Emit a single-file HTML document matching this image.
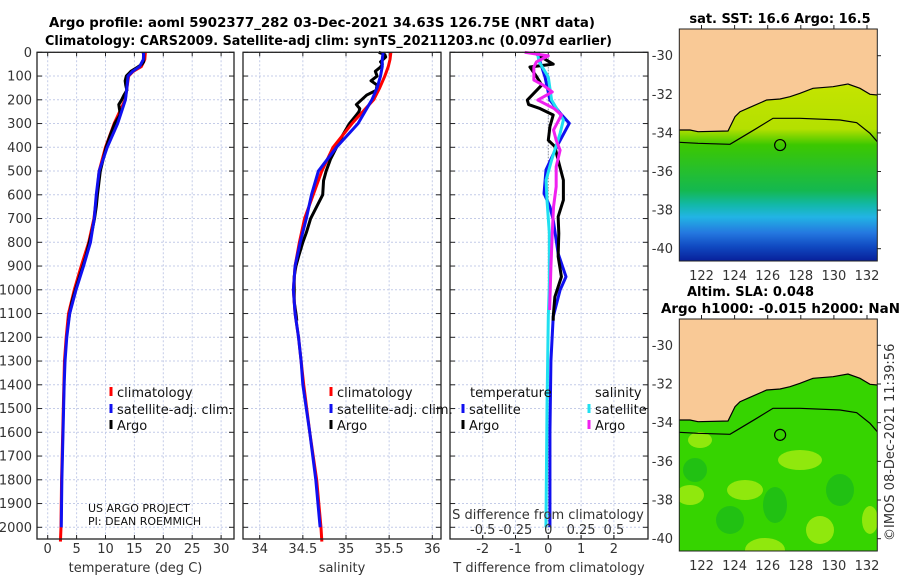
<!DOCTYPE html>
<html><head><meta charset="utf-8"><style>
html,body{margin:0;padding:0;background:#fff;}
svg{display:block;font-family:"DejaVu Sans","Liberation Sans",sans-serif;}
.tl{font-size:13px;fill:#333;}
.ti{font-weight:bold;font-size:13px;fill:#000;}
</style></head><body>
<svg id="fig" width="900" height="580" viewBox="0 0 900 580" xmlns="http://www.w3.org/2000/svg">
<defs>
<linearGradient id="sstg" x1="0" y1="0" x2="0" y2="1">
<stop offset="0" stop-color="#c4e400"/><stop offset="0.25" stop-color="#b4e000"/>
<stop offset="0.34" stop-color="#3cc800"/><stop offset="0.6" stop-color="#14b850"/>
<stop offset="0.68" stop-color="#12b8a8"/><stop offset="0.75" stop-color="#22b4e4"/>
<stop offset="0.84" stop-color="#2478e0"/><stop offset="0.92" stop-color="#1048c0"/>
<stop offset="1" stop-color="#08209a"/></linearGradient>
<clipPath id="m1clip"><rect x="679.3" y="29" width="198" height="232"/></clipPath>
<clipPath id="m2clip"><rect x="679.3" y="319" width="198" height="232"/></clipPath>
</defs>
<text class="ti" x="49" y="27" textLength="546" lengthAdjust="spacingAndGlyphs">Argo profile: aoml 5902377_282 03-Dec-2021 34.63S 126.75E (NRT data)</text>
<text class="ti" x="45" y="45" textLength="567" lengthAdjust="spacingAndGlyphs">Climatology: CARS2009. Satellite-adj clim: synTS_20211203.nc (0.097d earlier)</text>
<g id="panels"></g>
<g id="maps"></g>
<text transform="translate(894,541) rotate(-90)" font-size="13" fill="#333">©IMOS 08-Dec-2021 11:39:56</text>
</svg>
<script>
// ---------- data ----------
const depthTicks = [0,100,200,300,400,500,600,700,800,900,1000,1100,1200,1300,1400,1500,1600,1700,1800,1900,2000];
const tempTicks = [0,5,10,15,20,25,30];
const salTicks = [34,34.5,35,35.5,36];
const salTickLabels = ["34","34.5","35","35.5","36"];
const tdiffTicks = [-2,-1,0,1,2];
const sdiffTicks = [-0.5,-0.25,0,0.25,0.5];
const sdiffTickLabels = ["-0.5","-0.25","0","0.25","0.5"];

const climDepth = [0,30,60,80,100,150,200,300,400,500,600,700,800,900,1000,1100,1200,1300,1400,1600,1800,2000,2060];
const climT = [16.9,16.8,16.2,14.8,14.0,13.7,13.4,11.5,10.0,8.9,8.5,8.0,7.1,5.8,4.6,3.6,3.2,2.9,2.8,2.6,2.4,2.3,2.2];
const climS = [35.52,35.51,35.49,35.47,35.45,35.39,35.32,35.07,34.85,34.72,34.62,34.52,34.46,34.41,34.39,34.41,34.45,34.48,34.51,34.58,34.66,34.71,34.72];
const satDepth = [0,30,60,80,100,150,200,300,400,500,600,700,800,900,1000,1100,1200,1300,1400,1600,1800,2000];
const satT = [16.6,16.55,15.9,14.7,13.9,13.7,13.45,12.1,10.3,8.9,8.4,8.05,7.4,6.2,4.9,3.8,3.3,3.0,2.85,2.65,2.45,2.35];
const satS = [35.43,35.42,35.42,35.41,35.40,35.36,35.30,35.14,34.89,34.68,34.60,34.54,34.47,34.41,34.39,34.41,34.45,34.48,34.50,34.58,34.65,34.70];
const argoDepth = [0,10,20,40,50,62,80,100,120,138,160,180,200,220,237,250,264,300,350,400,450,500,540,600,650,700,760,800,860,900,945,1000,1050,1100,1130];
const argoT = [16.5,16.6,16.6,16.6,16.3,15.6,14.4,13.6,13.4,13.5,13.7,13.2,12.8,12.3,12.4,12.5,12.5,11.6,10.8,10.1,9.6,9.1,8.9,8.6,8.4,8.1,7.6,7.2,6.6,6.1,5.5,4.8,4.2,3.8,3.6];
const argoS = [35.38,35.45,35.46,35.40,35.42,35.40,35.34,35.36,35.29,35.36,35.35,35.24,35.18,35.12,35.16,35.15,35.12,35.04,34.96,34.89,34.82,34.77,34.74,34.73,34.66,34.59,34.54,34.50,34.45,34.42,34.40,34.40,34.40,34.42,34.43];
const tdSatDepth = [0,40,104,201,256,299,397,495,594,650,706,847,945,1001,1113,1300,1600,2000];
const tdSat = [-0.3,-0.25,-0.1,0.05,0.36,0.64,0.26,-0.07,-0.13,0.05,0.15,0.3,0.54,0.36,0.15,0.08,0.05,0.05];
const tdArgoDepth = [0,50,62,104,138,201,220,237,264,313,370,397,454,538,622,692,762,860,945,1030,1113,1130];
const tdArgo = [-0.45,0.15,-0.56,-0.35,-0.2,-0.64,-0.6,-0.25,0.15,0.05,0,0.2,0.3,0.46,0.46,0.3,0.32,0.3,0.4,0.2,0.15,0.15];
const sdSatDepth = [0,40,104,201,285,341,454,538,622,762,973,1113,1500,2000];
const sdSat = [-0.084,-0.07,0,0.025,0.115,0.09,0.025,-0.017,-0.01,0.008,0.008,0,-0.01,-0.018];
const sdArgoDepth = [0,15,40,62,117,138,167,201,237,264,327,370,412,482,566,650,762,903,1085];
const sdArgo = [-0.18,0,-0.09,-0.11,-0.11,-0.04,0.03,-0.08,0.045,0.1,0.04,0.06,0.09,0.06,0.06,0.04,0.03,0.02,0.01];
const lonTicks = [122,124,126,128,130,132];
const latTicks = [-30,-32,-34,-36,-38,-40];
const argoLon = 126.75;
const argoLat = -34.63;

// ---------- scales ----------
const Y0 = 52.3, YB = 539;
function yD(d){ return Y0 + d*0.2375; }
function xT(t){ return 47.7 + t*5.78; }
function xS(s){ return 259.7 + (s-34)*86.3; }
function xTd(v){ return 548.3 + v*32.8; }
function xSd(v){ return 548.3 + v*131.2; }
function mLon(l){ return 701.5 + (l-122)*16.55; }
function m1Lat(l){ return 55.7 + (-30 - l)*19.3; }
function m2Lat(l){ return 345.3 + (-30 - l)*19.34; }

const NS = "http://www.w3.org/2000/svg";
function mk(parent, tag, attrs, txt){
  const el = document.createElementNS(NS, tag);
  for (const k in attrs) el.setAttribute(k, attrs[k]);
  if (txt !== undefined) el.textContent = txt;
  parent.appendChild(el);
  return el;
}
const G = document.getElementById('panels');
const panels = [
  {x0:37, x1:234, ticks:tempTicks, labels:tempTicks.map(String), sx:xT, title:"temperature (deg C)", name:"temperature"},
  {x0:243, x1:441, ticks:salTicks, labels:salTickLabels, sx:xS, title:"salinity", name:"salinity"},
  {x0:450, x1:648, ticks:tdiffTicks, labels:tdiffTicks.map(String), sx:xTd, title:"T difference from climatology", name:"difference"}
];
panels.forEach((p, pi) => {
  const g = mk(G, 'g', {});
  
  
  // grid
  depthTicks.forEach(d => {
    const gl = mk(g, 'line', {x1:p.x0, x2:p.x1, y1:yD(d), y2:yD(d), stroke:'#c4cce8', 'stroke-width':1, 'stroke-dasharray':'2,2'});
    
    
    const t1 = mk(g, 'line', {x1:p.x0, x2:p.x0+5, y1:yD(d), y2:yD(d), stroke:'#222'});
    
    
    const t2 = mk(g, 'line', {x1:p.x1-5, x2:p.x1, y1:yD(d), y2:yD(d), stroke:'#222'});
    
    
    if (pi === 0) {
      const lb = mk(g, 'text', {class:'tl', x:32, y:yD(d)+4.5, 'text-anchor':'end'}, String(d));
      
      
    }
  });
  p.ticks.forEach((v, i) => {
    const x = p.sx(v);
    const gl = mk(g, 'line', {x1:x, x2:x, y1:Y0, y2:YB, stroke:'#c4cce8', 'stroke-width':1, 'stroke-dasharray':'2,2'});
    
    
    const tk = mk(g, 'line', {x1:x, x2:x, y1:YB-4, y2:YB, stroke:'#222'});
    
    
    const tk2 = mk(g, 'line', {x1:x, x2:x, y1:Y0, y2:Y0+4, stroke:'#222'});
    
    
    const lb = mk(g, 'text', {class:'tl', x:x, y:553, 'text-anchor':'middle'}, p.labels[i]);
    
    
  });
  const xt = mk(g, 'text', {class:'tl', x:(p.x0+p.x1)/2, y:572, 'text-anchor':'middle'}, p.title);
  
  
  p.g = g;
});

function series(g, xs, ds, fn, color, name, w){
  const pts = ds.map((d,i) => fn(xs[i]).toFixed(2) + ',' + yD(d).toFixed(2)).join(' ');
  const pl = mk(g, 'polyline', {points:pts, fill:'none', stroke:color, 'stroke-width':w||3, 'stroke-linejoin':'round'});
  
  
}
// panel 1
series(panels[0].g, climT, climDepth, xT, '#f00', 'climatology-temperature-line');
series(panels[0].g, argoT, argoDepth, xT, '#000', 'argo-temperature-line');
series(panels[0].g, satT, satDepth, xT, '#1010f0', 'satellite-temperature-line');
// panel 2
series(panels[1].g, argoS, argoDepth, xS, '#000', 'argo-salinity-line');
series(panels[1].g, climS, climDepth, xS, '#f00', 'climatology-salinity-line');
series(panels[1].g, satS, satDepth, xS, '#1010f0', 'satellite-salinity-line');
// panel 3
const p3 = panels[2].g;
const zl = mk(p3, 'line', {x1:xTd(0), x2:xTd(0), y1:Y0, y2:YB, stroke:'#777', 'stroke-dasharray':'1,2'});


series(p3, tdSat, tdSatDepth, xTd, '#1010f0', 'satellite-temperature-difference-line');
series(p3, tdArgo, tdArgoDepth, xTd, '#000', 'argo-temperature-difference-line');
series(p3, sdSat, sdSatDepth, xSd, '#20e0f0', 'satellite-salinity-difference-line');
series(p3, sdArgo, sdArgoDepth, xSd, '#f020f0', 'argo-salinity-difference-line');
const st = mk(p3, 'text', {class:'tl', x:548, y:519, 'text-anchor':'middle'}, 'S difference from climatology');


sdiffTicks.forEach((v,i) => {
  const lb = mk(p3, 'text', {class:'tl', x:xSd(v), y:534, 'text-anchor':'middle'}, sdiffTickLabels[i]);
  
  
  const tk = mk(p3, 'line', {x1:xSd(v), x2:xSd(v), y1:YB-4, y2:YB, stroke:'#222'});
  
  
});
// borders
panels.forEach(p => {
  const b = mk(p.g, 'rect', {x:p.x0, y:Y0, width:p.x1-p.x0, height:YB-Y0, fill:'none', stroke:'#222', 'stroke-width':1.3});
  
  
});
// legends
function legItem(g, x, y, color, label){
  const m = mk(g, 'rect', {x:x-1.5, y:y-10, width:3, height:9, fill:color});
  
  
  const t = mk(g, 'text', {class:'tl', x:x+6, y:y, fill:'#000', style:'fill:#111'}, label);
  
  
}
[[panels[0].g,111],[panels[1].g,331]].forEach(([g,x]) => {
  legItem(g, x, 397, '#f00', 'climatology');
  legItem(g, x, 414, '#1010f0', 'satellite-adj. clim.');
  legItem(g, x, 430, '#000', 'Argo');
});
const lt1 = mk(p3, 'text', {class:'tl', x:470, y:397, style:'fill:#111'}, 'temperature');


const lt2 = mk(p3, 'text', {class:'tl', x:595, y:397, style:'fill:#111'}, 'salinity');


legItem(p3, 463, 414, '#1010f0', 'satellite');
legItem(p3, 463, 430, '#000', 'Argo');
legItem(p3, 589, 414, '#20e0f0', 'satellite');
legItem(p3, 589, 430, '#f020f0', 'Argo');
const c1 = mk(panels[0].g, 'text', {x:88, y:512, 'font-size':11, fill:'#111'}, 'US ARGO PROJECT');


const c2 = mk(panels[0].g, 'text', {x:88, y:525, 'font-size':11, fill:'#111'}, 'PI: DEAN ROEMMICH');



// ---------- maps ----------
const M = document.getElementById('maps');
const coast = [[679.3,130],[690,130],[698,131.7],[728,131],[735,116.7],[740,111.7],[750,107.3],[766.7,100],[780,99],[790,96.7],[800,93.3],[813,88.3],[833,86.7],[848,84],[860,88.3],[870,94.3],[877.3,95]];
const contour = [[679.3,142.3],[698,143.3],[730,144.3],[740,138.3],[756.7,128.3],[773,118.3],[800,118.3],[840,120],[856.7,122.7],[870,133.3],[877.3,141.7]];
function drawMap(off, latF, ocean, clipId, name, title1, title2){
  const g = mk(M, 'g', {});
  
  
  const inner = mk(g, 'g', {'clip-path':'url(#'+clipId+')'});
  ocean(inner);
  const landPts = coast.map(p => p[0]+','+(p[1]+off)).join(' ') + ' 877.3,'+(29+off)+' 679.3,'+(29+off);
  const land = mk(inner, 'polygon', {points:landPts, fill:'#f9c996'});
  
  
  const cl = mk(inner, 'polyline', {points:coast.map(p => p[0]+','+(p[1]+off)).join(' '), fill:'none', stroke:'#000', 'stroke-width':1.2});
  
  
  const ct = mk(inner, 'polyline', {points:contour.map(p => p[0]+','+(p[1]+off)).join(' '), fill:'none', stroke:'#000', 'stroke-width':1.2});
  
  
  const fl = mk(g, 'circle', {cx:mLon(argoLon), cy:latF(argoLat), r:5.5, fill:'none', stroke:'#000', 'stroke-width':1.2});
  
  
  const br = mk(g, 'rect', {x:679.3, y:29+off, width:198, height:232, fill:'none', stroke:'#222'});
  
  
  latTicks.forEach(l => {
    const y = latF(l);
    const t = mk(g, 'text', {class:'tl', x:673, y:y+4.5, 'text-anchor':'end'}, String(l));
    
    
    const k = mk(g, 'line', {x1:877.3, x2:881, y1:y, y2:y, stroke:'#222'});
    
    
  });
  lonTicks.forEach(l => {
    const x = mLon(l);
    const t = mk(g, 'text', {class:'tl', x:x, y:280+off, 'text-anchor':'middle'}, String(l));
    
    
    const k = mk(g, 'line', {x1:x, x2:x, y1:25+off, y2:29+off, stroke:'#222'});
    
    
  });
  title1(g);
  if (title2) title2(g);
}
drawMap(0, m1Lat, g => {
  const r = mk(g, 'rect', {x:679.3, y:85, width:198, height:176, fill:'url(#sstg)'});
  
  
}, 'm1clip', 'sst-map', g => {
  const t = mk(g, 'text', {class:'ti', x:780, y:23, 'text-anchor':'middle'}, 'sat. SST: 16.6 Argo: 16.5');
  
  
});
drawMap(290, m2Lat, g => {
  const r = mk(g, 'rect', {x:679.3, y:319, width:198, height:232, fill:'#36d400'});
  
  
  [[690,495,14,10],[745,490,18,10],[765,550,20,12],[800,460,22,10],[820,530,14,14],[870,520,8,14],[700,440,12,8]].forEach(e => {
    const el = mk(g, 'ellipse', {cx:e[0], cy:e[1], rx:e[2], ry:e[3], fill:'#a8ec10', opacity:0.8});
    
    
  });
  [[730,520,14,14],[775,505,12,18],[840,490,14,16],[695,470,12,12]].forEach(e => {
    const el = mk(g, 'ellipse', {cx:e[0], cy:e[1], rx:e[2], ry:e[3], fill:'#14b420', opacity:0.6});
    
    
  });
}, 'm2clip', 'sla-map', g => {
  const t = mk(g, 'text', {class:'ti', x:687, y:296}, 'Altim. SLA: 0.048');
  
  
}, g => {
  const t = mk(g, 'text', {class:'ti', x:661, y:313, textLength:239, lengthAdjust:'spacingAndGlyphs'}, 'Argo h1000: -0.015 h2000: NaN');
  
  
});
</script>
</body></html>
